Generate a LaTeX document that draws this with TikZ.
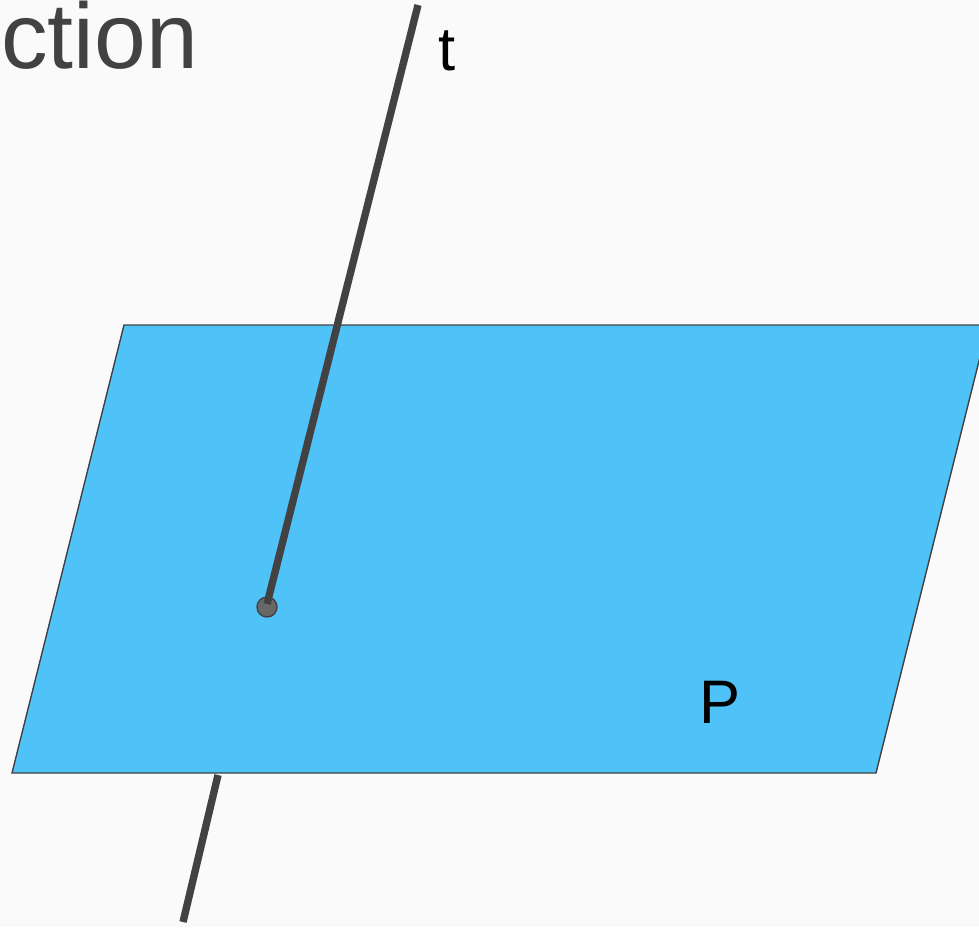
\documentclass[tikz,border=0pt]{standalone}
\usepackage{fontspec}
\setmainfont{Liberation Sans}
\usepackage{tikz}
\definecolor{bgcol}{HTML}{FAFAFA}
\definecolor{planecol}{HTML}{4FC3F7}
\definecolor{inkcol}{HTML}{424242}

\begin{document}
\begin{tikzpicture}[x=0.02cm, y=-0.02cm,
    plane/.style={fill=planecol, draw=inkcol, line width=0.8pt, line join=miter},
    tline/.style={draw=inkcol, line width=4.2pt},
    foot/.style={circle, fill=inkcol!80, draw=inkcol, line width=0.8pt, inner sep=0pt, minimum size=0.4cm}]
    % background and frame of the picture
    \fill[bgcol] (0,0) rectangle (979,927);
    \useasboundingbox (0,0) rectangle (979,927);
    \clip (0,0) rectangle (979,927);

    % cut-off heading
    \node[anchor=base west, inner sep=0pt, text height=0.7em, text=inkcol, font=\fontsize{53}{58}\selectfont] (title) at (1,68) {ction};

    % line below the plane
    \coordinate (ttop) at (418,5);
    \coordinate (tlow) at (218,775);
    \coordinate (tbot) at (183,922);
    \draw[tline] (tlow) -- (tbot);

    % the plane P
    \path[plane] (12,773) -- (124,325) -- (988,325) -- (876,773) -- cycle;
    \node[anchor=base, inner sep=0pt, font=\fontsize{35}{40}\selectfont] (plabel) at (720,723) {P};

    % line above the plane, ending at its foot
    \node[foot] (meet) at (267,607) {};
    \draw[tline] (ttop) -- ([shift={(0,-3)}]meet.center);
    \node[anchor=base, inner sep=0pt, font=\fontsize{35}{40}\selectfont] (tlabel) at (447,70) {t};
\end{tikzpicture}
\end{document}
